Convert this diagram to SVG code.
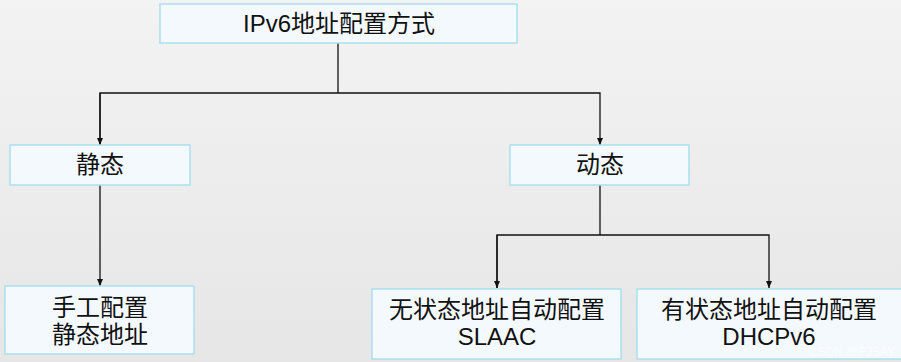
<svg xmlns="http://www.w3.org/2000/svg" width="901" height="362" viewBox="0 0 901 362">
<defs>
<linearGradient id="bg" x1="0" y1="0" x2="0" y2="1">
<stop offset="0" stop-color="#f3f3f3"/>
<stop offset="1" stop-color="#e6e6e6"/>
</linearGradient>
<marker id="arr" markerWidth="8" markerHeight="8" refX="7" refY="4" orient="auto" markerUnits="userSpaceOnUse">
<path d="M0,1 L7,4 L0,7 Z" fill="#111"/>
</marker>
</defs>
<style>
.box{fill:#f3f9fc;stroke:#a9e0ee;stroke-width:1.5}
.t{font-family:"Liberation Sans","Noto Sans CJK SC",sans-serif;font-size:24px;fill:#111;text-anchor:middle}
.ln{fill:none;stroke:#111;stroke-width:1.3}
.wm{font-family:"Liberation Sans",sans-serif;font-size:12px;fill:#ffffff;fill-opacity:0.75;text-anchor:end}
</style>
<rect width="901" height="362" fill="url(#bg)"/>
<g id="connectors">
<polyline class="ln" points="338,43 338,93"/>
<polyline class="ln" points="100,145 100,93 600,93 600,145" marker-end="url(#arr)"/>
<polyline class="ln" points="100,93 100,145" marker-end="url(#arr)"/>
<polyline class="ln" points="100,185 100,286" marker-end="url(#arr)"/>
<polyline class="ln" points="600,185 600,235"/>
<polyline class="ln" points="497,288 497,235 769,235 769,288" marker-end="url(#arr)"/>
<polyline class="ln" points="497,235 497,288" marker-end="url(#arr)"/>
</g>
<g id="root">
<rect class="box" x="160" y="4" width="357" height="39"/>
<text class="t" x="339" y="32">IPv6地址配置方式</text>
</g>
<g id="static">
<rect class="box" x="10" y="145" width="180" height="40"/>
<text class="t" x="100" y="173">静态</text>
</g>
<g id="dynamic">
<rect class="box" x="510" y="145" width="179" height="40"/>
<text class="t" x="600" y="173">动态</text>
</g>
<g id="manual">
<rect class="box" x="5" y="286" width="189" height="68"/>
<text class="t" x="100" y="316">手工配置</text>
<text class="t" x="100" y="343">静态地址</text>
</g>
<g id="slaac">
<rect class="box" x="372" y="289" width="249" height="70"/>
<text class="t" x="497" y="318">无状态地址自动配置</text>
<text class="t" x="497" y="345">SLAAC</text>
</g>
<g id="dhcpv6">
<rect class="box" x="637" y="289" width="266" height="70"/>
<text class="t" x="769" y="318">有状态地址自动配置</text>
<text class="t" x="769" y="345">DHCPv6</text>
</g>
<text class="wm" x="895" y="356">CSDN @FJSAY</text>
</svg>
